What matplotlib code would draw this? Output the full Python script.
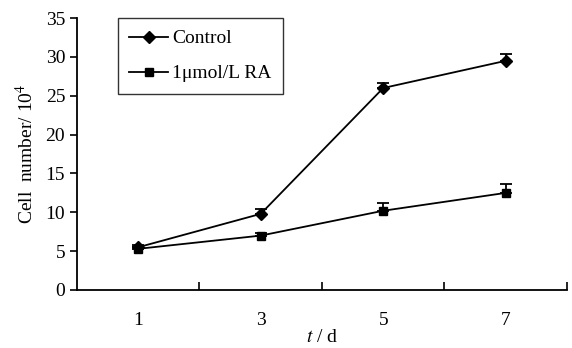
import matplotlib.pyplot as plt
import numpy as np

days = ['1', '3', '5', '7']
control = [5.5, 9.8, 26.0, 29.5]
control_err = [0.3, 0.6, 0.7, 0.9]
ra = [5.3, 7.0, 10.2, 12.5]
ra_err = [0.2, 0.4, 1.0, 1.1]

plt.rcParams['font.family'] = ['Liberation Serif', 'DejaVu Serif']
plt.rcParams['mathtext.fontset'] = 'stix'

fig = plt.figure(figsize=(5.72, 3.48), dpi=100)
ax = fig.add_axes([0.1346, 0.1667, 0.8566, 0.7813])

x = np.arange(len(days))
# upper error bars only
ax.errorbar(x, control, yerr=[np.zeros(4), control_err], fmt='none', ecolor='black',
            capsize=4, capthick=1.3, elinewidth=1.3)
ax.errorbar(x, ra, yerr=[np.zeros(4), ra_err], fmt='none', ecolor='black',
            capsize=4, capthick=1.3, elinewidth=1.3)
ax.plot(x, control, color='black', lw=1.3, marker='D', ms=6, label='Control')
ax.plot(x, ra, color='black', lw=1.3, marker='s', ms=6, label='1\u03bcmol/L RA')

ax.set_xlim(-0.5, 3.5)
ax.set_ylim(0, 35)
ax.set_yticks(range(0, 36, 5))
ax.set_xticks(x)
ax.set_xticklabels(days)
ax.tick_params(axis='x', length=0, labelsize=14, pad=16)
ax.set_xticks(np.arange(0.5, 4, 1), minor=True)
ax.tick_params(axis='x', which='minor', direction='in', length=6, width=1.2)
ax.tick_params(axis='y', direction='out', length=5, width=1.2, labelsize=14)

for s in ['top', 'right']:
    ax.spines[s].set_visible(False)
for s in ['left', 'bottom']:
    ax.spines[s].set_linewidth(1.3)

ax.set_ylabel('Cell  number/ 10$^4$', fontsize=14, labelpad=6)
ax.set_xlabel('$t$ / d', fontsize=14, labelpad=0)

leg = ax.legend(loc='upper left', bbox_to_anchor=(0.083, 1.0), fontsize=14,
                fancybox=False, edgecolor='black', handlelength=2.0,
                handletextpad=0.2, borderpad=0.6, labelspacing=0.9, borderaxespad=0)
leg.get_frame().set_linewidth(1.0)

fig.savefig('out.png', dpi=100)
